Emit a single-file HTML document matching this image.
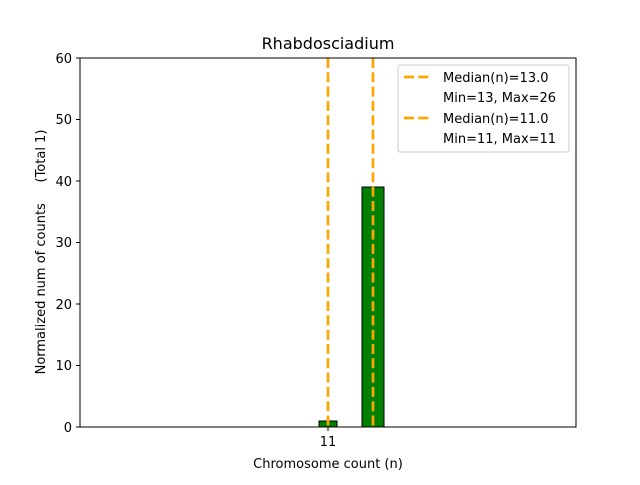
<!DOCTYPE html><html><head><style>body{margin:0;background:#fff}</style></head><body>
<svg width="640" height="480" xmlns="http://www.w3.org/2000/svg" font-family="DejaVu Sans, Liberation Sans, sans-serif" font-size="13">
<rect width="640" height="480" fill="#fff"/>
<rect x="319" y="421" width="18" height="6" fill="green" stroke="#000" stroke-width="1"/>
<rect x="362" y="187" width="22" height="240" fill="green" stroke="#000" stroke-width="1"/>
<line x1="328" y1="58" x2="328" y2="427" stroke="#FFA500" stroke-width="2.7" stroke-dasharray="10,4.3"/>
<line x1="373" y1="58" x2="373" y2="427" stroke="#FFA500" stroke-width="2.7" stroke-dasharray="10,4.3"/>
<rect x="80" y="58" width="496" height="369" fill="none" stroke="#000" stroke-width="1"/>
<g stroke="#000">
<line x1="76" y1="427" x2="80" y2="427"/><line x1="76" y1="365.5" x2="80" y2="365.5"/><line x1="76" y1="304" x2="80" y2="304"/><line x1="76" y1="242.5" x2="80" y2="242.5"/><line x1="76" y1="181" x2="80" y2="181"/><line x1="76" y1="119.5" x2="80" y2="119.5"/><line x1="76" y1="58" x2="80" y2="58"/>
<line x1="328" y1="427" x2="328" y2="431"/></g>
<g text-anchor="end" font-size="13">
<text x="72" y="432">0</text><text x="72" y="370">10</text><text x="72" y="309">20</text><text x="72" y="247">30</text><text x="72" y="186">40</text><text x="72" y="124">50</text><text x="72" y="63">60</text></g>
<text x="328" y="446" text-anchor="middle">11</text>
<text x="328" y="468" text-anchor="middle">Chromosome count (n)</text>
<text transform="translate(45,252) rotate(-90)" text-anchor="middle" xml:space="preserve" style="white-space:pre">Normalized num of counts     (Total 1)</text>
<text x="328" y="49" text-anchor="middle" font-size="16">Rhabdosciadium</text>
<rect x="398" y="65" width="171" height="87" rx="2" fill="#fff" fill-opacity="0.8" stroke="#ccc"/>
<line x1="404" y1="77" x2="432" y2="77" stroke="#FFA500" stroke-width="2.7" stroke-dasharray="10,4.3"/>
<line x1="404" y1="118" x2="432" y2="118" stroke="#FFA500" stroke-width="2.7" stroke-dasharray="10,4.3"/>
<text x="443" y="82">Median(n)=13.0</text>
<text x="443" y="102">Min=13, Max=26</text>
<text x="443" y="123">Median(n)=11.0</text>
<text x="443" y="143">Min=11, Max=11</text>
</svg></body></html>
